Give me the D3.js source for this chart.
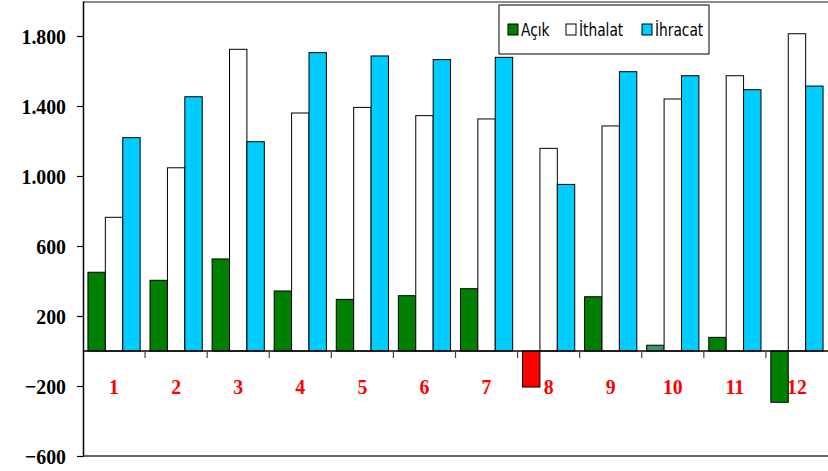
<!DOCTYPE html>
<html lang="tr">
<head>
  <meta charset="UTF-8">
  <title>Açık, İthalat, İhracat</title>
  <script src="https://d3js.org/d3.v7.min.js"></script>
  <style>
    body {
      margin: 0;
      padding: 0;
      background-color: #fff;
    }
    .axis-label {
      font-family: 'Liberation Serif', 'Times New Roman', serif;
      font-weight: bold;
      font-size: 22px;
      fill: #000;
    }
    .cat-label {
      font-family: 'Liberation Serif', 'Times New Roman', serif;
      font-weight: bold;
      font-size: 22px;
      fill: #ff0000;
    }
    .legend-text {
      font-family: 'DejaVu Sans Condensed', 'DejaVu Sans', sans-serif;
      font-size: 17px;
      fill: #000;
    }
  </style>
</head>
<body>
  <div id="chart"></div>

  <script>
    // Data
    const months = ["1", "2", "3", "4", "5", "6", "7", "8", "9", "10", "11", "12"];
    const acik = [450, 404, 526, 343, 295, 316, 356, -206, 310, 33, 78, -293];
    const ithalat = [764, 1047, 1724, 1360, 1392, 1345, 1326, 1158, 1286, 1440, 1573, 1813];
    const ihracat = [1219, 1453, 1196, 1705, 1686, 1665, 1678, 952, 1596, 1573, 1493, 1514];
    const seriesNames = ["Açık", "İthalat", "İhracat"];
    const seriesColors = ["#008000", "#ffffff", "#00ccff"];
    // some Açık points have their own colour
    const acikColors = ["#008000", "#008000", "#008000", "#008000", "#008000", "#008000",
                        "#008000", "#ff0000", "#008000", "#339966", "#008000", "#008000"];
    const yTicks = [-600, -200, 200, 600, 1000, 1400, 1800];

    const width = 828, height = 471;
    const plot = { left: 83, right: 828, top: 1, bottom: 456 };
    const squeeze = 0.9; // the original text looks narrow and tall

    const svg = d3.select("#chart")
      .append("svg")
      .attr("width", width)
      .attr("height", height);

    const x = d3.scaleBand()
      .domain(months)
      .range([plot.left, plot.right])
      .padding(0);

    const xs = d3.scaleBand()
      .domain(seriesNames)
      .range([0, x.bandwidth()])
      .paddingInner(0)
      .paddingOuter(0.284);

    const y = d3.scaleLinear()
      .domain([-600, 2000])
      .range([plot.bottom, plot.top]);

    const trLocale = d3.formatLocale({ decimal: ",", thousands: ".", grouping: [3], currency: ["", ""] });
    const fmt = trLocale.format(",d");

    // plot frame (top and bottom)
    svg.append("line")
      .attr("x1", plot.left).attr("x2", plot.right)
      .attr("y1", y(2000) + 1).attr("y2", y(2000) + 1)
      .attr("stroke", "#666").attr("stroke-width", 1.5);
    svg.append("line")
      .attr("x1", plot.left).attr("x2", plot.right)
      .attr("y1", y(-600)).attr("y2", y(-600))
      .attr("stroke", "#666").attr("stroke-width", 2);

    // bars
    const rows = months.map((m, i) => ({
      month: m,
      values: [
        { name: seriesNames[0], v: acik[i], color: acikColors[i] },
        { name: seriesNames[1], v: ithalat[i], color: seriesColors[1] },
        { name: seriesNames[2], v: ihracat[i], color: seriesColors[2] }
      ]
    }));

    const groups = svg.selectAll(".group")
      .data(rows)
      .enter()
      .append("g")
      .attr("class", "group")
      .attr("transform", d => "translate(" + x(d.month) + ",0)");

    groups.selectAll("rect")
      .data(d => d.values)
      .enter()
      .append("rect")
      .attr("x", d => xs(d.name))
      .attr("y", d => y(Math.max(0, d.v)))
      .attr("width", xs.bandwidth())
      .attr("height", d => Math.abs(y(d.v) - y(0)))
      .attr("fill", d => d.color)
      .attr("stroke", "#000")
      .attr("stroke-width", 1);

    // zero line
    svg.append("line")
      .attr("x1", plot.left).attr("x2", plot.right)
      .attr("y1", y(0)).attr("y2", y(0))
      .attr("stroke", "#000").attr("stroke-width", 1.5);

    // category tick marks between months
    svg.selectAll(".cat-tick")
      .data(months.slice(1))
      .enter()
      .append("line")
      .attr("x1", d => x(d)).attr("x2", d => x(d))
      .attr("y1", y(0)).attr("y2", y(0) + 7)
      .attr("stroke", "#444").attr("stroke-width", 1.2);

    // month labels
    svg.append("g")
      .attr("transform", "scale(" + squeeze + ",1)")
      .selectAll(".cat-label")
      .data(months)
      .enter()
      .append("text")
      .attr("class", "cat-label")
      .attr("x", d => (x(d) + x.bandwidth() / 2) / squeeze)
      .attr("y", 394)
      .attr("text-anchor", "middle")
      .text(d => d);

    // y axis
    const yAxis = svg.append("g")
      .attr("transform", "translate(" + plot.left + ",0)")
      .call(d3.axisLeft(y).tickValues(yTicks).tickFormat(fmt).tickSize(6).tickPadding(11).tickSizeOuter(0));
    yAxis.select(".domain").attr("stroke", "#000").attr("stroke-width", 1.5);
    yAxis.selectAll(".tick line").attr("stroke", "#000").attr("stroke-width", 1.2);
    yAxis.selectAll(".tick text")
      .attr("class", "axis-label")
      .attr("font-family", null)
      .attr("font-size", null)
      .attr("x", -17 / squeeze)
      .attr("transform", "scale(" + squeeze + ",1)");

    // legend
    const legend = svg.append("g").attr("transform", "translate(499,5)");
    legend.append("rect")
      .attr("width", 210).attr("height", 49)
      .attr("fill", "#fff").attr("stroke", "#000").attr("stroke-width", 1);
    const legendX = [9, 67, 143];
    seriesNames.forEach((name, i) => {
      legend.append("rect")
        .attr("x", legendX[i]).attr("y", 19)
        .attr("width", 10).attr("height", 11)
        .attr("fill", seriesColors[i]).attr("stroke", "#000").attr("stroke-width", 1);
      legend.append("text")
        .attr("class", "legend-text")
        .attr("x", (legendX[i] + 13) / squeeze).attr("y", 31)
        .attr("transform", "scale(" + squeeze + ",1)")
        .text(name);
    });
  </script>
</body>
</html>
